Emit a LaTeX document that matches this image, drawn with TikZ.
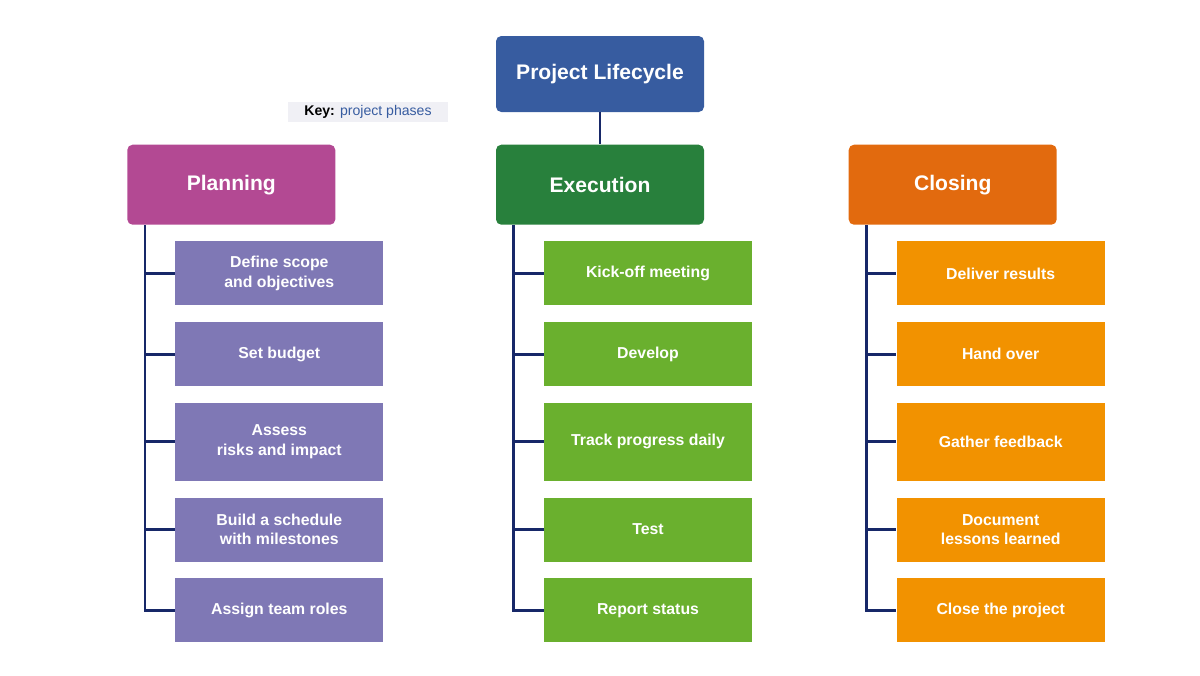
\documentclass[tikz,border=0pt]{standalone}
\usepackage{fontspec}
\setmainfont{Liberation Sans}
\usetikzlibrary{positioning}

\definecolor{rootblue}{HTML}{375CA0}
\definecolor{planmag}{HTML}{B34993}
\definecolor{execgreen}{HTML}{28803C}
\definecolor{closeorange}{HTML}{E26A0E}
\definecolor{planitem}{HTML}{7F78B5}
\definecolor{execitem}{HTML}{6AB02E}
\definecolor{closeitem}{HTML}{F29200}
\definecolor{linknavy}{HTML}{172868}
\definecolor{keyfill}{HTML}{F0F0F5}

\begin{document}
\begin{tikzpicture}[
  head/.style={rectangle, rounded corners=3pt, text=white, minimum width=4.16cm, minimum height=1.6cm, font=\bfseries\large, align=center},
  item/.style={rectangle, text=white, minimum width=4.16cm, minimum height=1.28cm, font=\bfseries\small, align=center},
  link/.style={draw=linknavy, line width=1.6pt},
  font=\small
]
\useasboundingbox (0,0) rectangle (24,-13.5);

\node[head, fill=rootblue, minimum height=1.52cm] (root) at (12,-1.48) {Project Lifecycle};
\node[head, fill=execgreen, below=0.64cm of root] (exec) {Execution};
\node[head, fill=planmag, left=3.2cm of exec] (plan) {Planning};
\node[head, fill=closeorange, right=2.88cm of exec] (close) {Closing};

\node[fill=keyfill, font=\footnotesize, minimum width=3.2cm, inner sep=2pt] (key) at (7.36,-2.24) {\textbf{Key:} \textcolor{rootblue}{project phases}};

% Planning column
\node[item, fill=planitem, anchor=north west] (plan1) at ([xshift=0.96cm,yshift=-0.32cm]plan.south west) {Define scope\\and objectives};
\node[item, fill=planitem, below=0.32cm of plan1] (plan2) {Set budget};
\node[item, fill=planitem, below=0.32cm of plan2, minimum height=1.56cm] (plan3) {Assess\\risks and impact};
\node[item, fill=planitem, below=0.32cm of plan3] (plan4) {Build a schedule\\with milestones};
\node[item, fill=planitem, below=0.32cm of plan4] (plan5) {Assign team roles};

% Execution column
\node[item, fill=execitem, anchor=north west] (exec1) at ([xshift=0.96cm,yshift=-0.32cm]exec.south west) {Kick-off meeting};
\node[item, fill=execitem, below=0.32cm of exec1] (exec2) {Develop};
\node[item, fill=execitem, below=0.32cm of exec2, minimum height=1.56cm] (exec3) {Track progress daily};
\node[item, fill=execitem, below=0.32cm of exec3] (exec4) {Test};
\node[item, fill=execitem, below=0.32cm of exec4] (exec5) {Report status};

% Closing column
\node[item, fill=closeitem, anchor=north west] (close1) at ([xshift=0.96cm,yshift=-0.32cm]close.south west) {Deliver results};
\node[item, fill=closeitem, below=0.32cm of close1] (close2) {Hand over};
\node[item, fill=closeitem, below=0.32cm of close2, minimum height=1.56cm] (close3) {Gather feedback};
\node[item, fill=closeitem, below=0.32cm of close3] (close4) {Document\\lessons learned};
\node[item, fill=closeitem, below=0.32cm of close4] (close5) {Close the project};

% Links
\draw[link] (root) -- (exec);
\draw[link] ([xshift=0.36cm]plan.south west) |- (plan1.west);
\draw[link] ([xshift=0.36cm]plan.south west) |- (plan2.west);
\draw[link] ([xshift=0.36cm]plan.south west) |- (plan3.west);
\draw[link] ([xshift=0.36cm]plan.south west) |- (plan4.west);
\draw[link] ([xshift=0.36cm]plan.south west) |- (plan5.west);
\draw[link] ([xshift=0.36cm]exec.south west) |- (exec1.west);
\draw[link] ([xshift=0.36cm]exec.south west) |- (exec2.west);
\draw[link] ([xshift=0.36cm]exec.south west) |- (exec3.west);
\draw[link] ([xshift=0.36cm]exec.south west) |- (exec4.west);
\draw[link] ([xshift=0.36cm]exec.south west) |- (exec5.west);
\draw[link] ([xshift=0.36cm]close.south west) |- (close1.west);
\draw[link] ([xshift=0.36cm]close.south west) |- (close2.west);
\draw[link] ([xshift=0.36cm]close.south west) |- (close3.west);
\draw[link] ([xshift=0.36cm]close.south west) |- (close4.west);
\draw[link] ([xshift=0.36cm]close.south west) |- (close5.west);

\end{tikzpicture}
\end{document}
